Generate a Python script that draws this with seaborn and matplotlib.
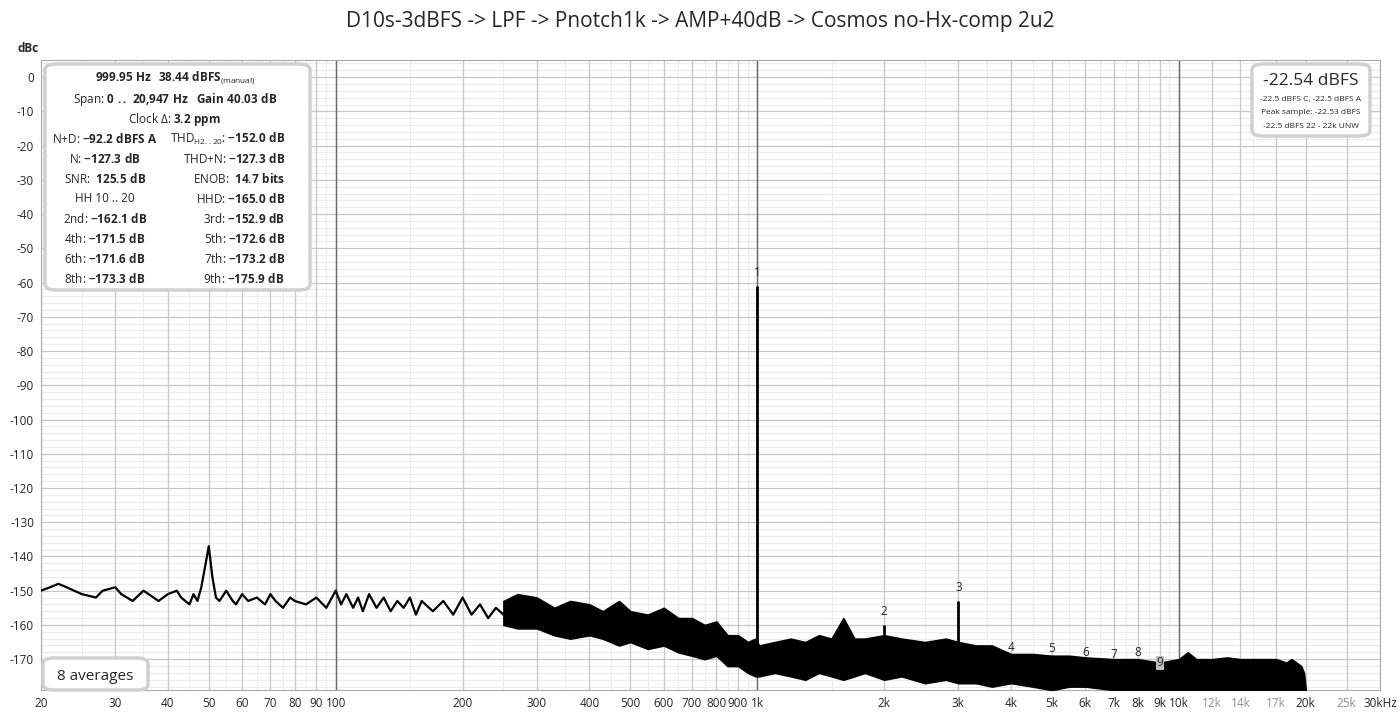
import numpy as np
import matplotlib
matplotlib.use("Agg")
import matplotlib.pyplot as plt
import seaborn as sns
from matplotlib.patches import FancyBboxPatch
from matplotlib.ticker import FixedLocator, NullFormatter

# ---- data ----
lf_freq = [20, 21, 22, 23, 25, 27, 28, 30, 31, 33, 35, 36, 38, 40, 42, 43, 45, 46, 47, 48, 49, 50, 51, 52, 53, 55, 57, 58, 60, 62, 65, 68, 70, 72, 75, 78, 80, 85, 90, 95, 100, 103, 106, 110, 113, 116, 120, 125, 130, 135, 140, 145, 150, 155, 160, 170, 180, 190, 200, 210, 220, 230, 240, 250]
lf_db = [-150, -149, -148, -149, -151, -152, -150, -149, -151, -153, -150, -151, -153, -151, -150, -152, -154, -151, -153, -149, -143, -137, -146, -152, -153, -150, -153, -154, -151, -153, -152, -154, -151, -153, -155, -152, -153, -154, -152, -155, -150, -154, -151, -155, -152, -156, -151, -155, -152, -156, -153, -155, -152, -157, -153, -156, -153, -157, -152, -157, -154, -158, -155, -157]
band_freq = [250, 270, 300, 330, 360, 400, 430, 470, 500, 550, 600, 650, 700, 750, 800, 850, 900, 950, 990, 1010, 1100, 1200, 1300, 1400, 1500, 1600, 1700, 1800, 2000, 2200, 2500, 2800, 3000, 3300, 3600, 4000, 4500, 5000, 5500, 6000, 7000, 8000, 9000, 10000, 10500, 11000, 12000, 13000, 14000, 15000, 16000, 17000, 18000, 18500, 19000, 19500, 19800, 20000]
band_hi = [-153, -151, -152, -155, -153, -154, -156, -153, -156, -157, -155, -158, -158, -160, -159, -163, -163, -165, -164, -166, -165, -164, -165, -163, -164, -158, -164, -164, -163, -164, -165, -164, -165, -166, -166, -168.5, -168.5, -169, -169, -169.5, -170, -170, -171, -170, -168, -170, -170, -169.5, -170, -170, -170, -170, -171, -170, -171, -172, -174, -179]
band_lo = [-160, -161, -161, -163, -164, -163, -164, -166, -165, -167, -166, -168, -169, -170, -169, -172, -172, -174, -175, -175, -174, -175, -176, -174, -175, -176, -175, -174, -176, -175, -177, -176, -177, -177, -178, -177, -178, -179, -178, -178, -179, -179, -179, -179, -179, -179, -179, -179, -179, -179, -179, -179, -179, -179, -179, -179, -179, -179]
spike_f = [1000, 2000, 3000]
spike_db = [-61, -160, -153]
spike_base = [-175, -168, -168]
harm_f = [1000, 2000, 3000, 4000, 5000, 6000, 7000, 8000, 9000]
harm_lab_db = [-57, -156, -149, -166.5, -167, -168, -168.5, -168, -171]
harm_lab = ["1", "2", "3", "4", "5", "6", "7", "8", "9"]
tick_f = [20, 30, 40, 50, 60, 70, 80, 90, 100, 200, 300, 400, 500, 600, 700, 800, 900, 1000, 2000, 3000, 4000, 5000, 6000, 7000, 8000, 9000, 10000, 12000, 14000, 17000, 20000, 25000, 30000]
tick_lab = ["20", "30", "40", "50", "60", "70", "80", "90", "100", "200", "300", "400", "500", "600", "700", "800", "900", "1k", "2k", "3k", "4k", "5k", "6k", "7k", "8k", "9k", "10k", "12k", "14k", "17k", "20k", "25k", "30kHz"]
y_ticks = list(range(0, -180, -10))

sns.set_style("white")
plt.rcParams['font.family'] = ['Open Sans', 'DejaVu Sans']
plt.rcParams['mathtext.fontset'] = 'custom'
plt.rcParams['mathtext.rm'] = 'Open Sans'
plt.rcParams['mathtext.bf'] = 'Open Sans:bold'

W, H = 1400, 719
fig = plt.figure(figsize=(14, 7.19), dpi=100)
ax = fig.add_axes([41 / W, 1 - 690 / H, (1380 - 41) / W, (690 - 60) / H])
ax.set_xscale('log')
ax.set_xlim(20, 30000)
ax.set_ylim(-179, 5)

fine = []
for dec in [10, 100, 1000, 10000]:
    for m in np.arange(1, 10, 0.5):
        fine.append(m * dec)
for f in fine:
    if 20 <= f <= 30000:
        ax.axvline(f, color='#ececec', lw=0.8, zorder=0)
for f in tick_f:
    ax.axvline(f, color='#c8c8c8', lw=0.9, zorder=0.5)
for y in range(-178, 6, 2):
    ax.axhline(y, color='#ececec', lw=0.8, zorder=0)
for y in y_ticks:
    ax.axhline(y, color='#c8c8c8', lw=0.9, zorder=0.5)
for f in [100, 1000, 10000]:
    ax.axvline(f, color='#6a6a6a', lw=1.0, zorder=1)

sns.lineplot(x=lf_freq, y=lf_db, ax=ax, color='black', lw=1.6, zorder=3)
ax.fill_between(band_freq, band_lo, band_hi, color='black', lw=1.2, zorder=3)
ax.vlines(spike_f, spike_base, spike_db, color='black', lw=2, zorder=3)
for i, (f, d, t) in enumerate(zip(harm_f, harm_lab_db, harm_lab)):
    kw = {}
    if t == "9":
        kw = dict(bbox=dict(boxstyle='square,pad=0.05', fc='#c0c0c0', ec='none'))
    ax.text(f, d, t, ha='center', va='center', fontsize=8.5, zorder=4, **kw)

ax.xaxis.set_major_locator(FixedLocator(tick_f))
ax.xaxis.set_minor_formatter(NullFormatter())
ax.set_xticklabels(tick_lab)
for lab, f in zip(ax.get_xticklabels(), tick_f):
    if f in (12000, 14000, 17000, 25000):
        lab.set_color('#909090')
ax.set_yticks(y_ticks)
ax.set_yticklabels([str(v) for v in y_ticks])
ax.tick_params(axis='both', labelsize=8.5, length=0, pad=5)
for s in ax.spines.values():
    s.set_color('#aaaaaa')
    s.set_linewidth(0.8)

fig.text(0.5, 1 - 22 / H, "D10s-3dBFS -> LPF -> Pnotch1k -> AMP+40dB -> Cosmos no-Hx-comp 2u2",
         ha='center', va='center', fontsize=15)
fig.text(18 / W, 1 - 49 / H, "dBc", ha='left', va='center', fontsize=8.5, weight='bold')

def box(x0, y0, x1, y1):
    p = FancyBboxPatch((x0 / W, 1 - y1 / H), (x1 - x0) / W, (y1 - y0) / H,
                       boxstyle="round,pad=0,rounding_size=0.008",
                       transform=fig.transFigure, fc='white', ec='#d0d0d0', lw=2.5, zorder=5)
    fig.add_artist(p)

def t(x, y, s, ha='center', size=8.5, **kw):
    fig.text(x / W, 1 - y / H, s, ha=ha, va='center', fontsize=size, zorder=6, **kw)

box(45, 64, 310, 290)
t(175, 78, r"$\bf{999.95\ Hz\ \ 38.44\ dBFS}$$_{\rm (manual)}$")
t(175, 99, r"Span: $\bf{0\ ..\ 20{,}947\ Hz}$   $\bf{Gain\ 40.03\ dB}$")
t(175, 119, r"Clock Δ: $\bf{3.2\ ppm}$")
left = [r"N+D: $\bf{-92.2\ dBFS\ A}$", r"N: $\bf{-127.3\ dB}$", r"SNR:  $\bf{125.5\ dB}$", "HH 10 .. 20",
        r"2nd: $\bf{-162.1\ dB}$", r"4th: $\bf{-171.5\ dB}$", r"6th: $\bf{-171.6\ dB}$", r"8th: $\bf{-173.3\ dB}$"]
right = [r"THD$_{\rm H2..20}$: $\bf{-152.0\ dB}$", r"THD+N: $\bf{-127.3\ dB}$", r"ENOB:  $\bf{14.7\ bits}$", r"HHD: $\bf{-165.0\ dB}$",
         r"3rd: $\bf{-152.9\ dB}$", r"5th: $\bf{-172.6\ dB}$", r"7th: $\bf{-173.2\ dB}$", r"9th: $\bf{-175.9\ dB}$"]
for i, (a, b) in enumerate(zip(left, right)):
    y = 139 + 20 * i
    t(105, y, a)
    t(285, y, b, ha='right')

box(1252, 64, 1370, 136)
t(1311, 81, "-22.54 dBFS", size=12.5)
t(1311, 100, "-22.5 dBFS C, -22.5 dBFS A", size=6)
t(1311, 113, "Peak sample: -22.53 dBFS", size=6)
t(1311, 126, "-22.5 dBFS 22 - 22k UNW", size=6)

box(43, 658, 148, 690)
t(95, 676, "8 averages", size=11)

fig.savefig("out.png", dpi=100)
